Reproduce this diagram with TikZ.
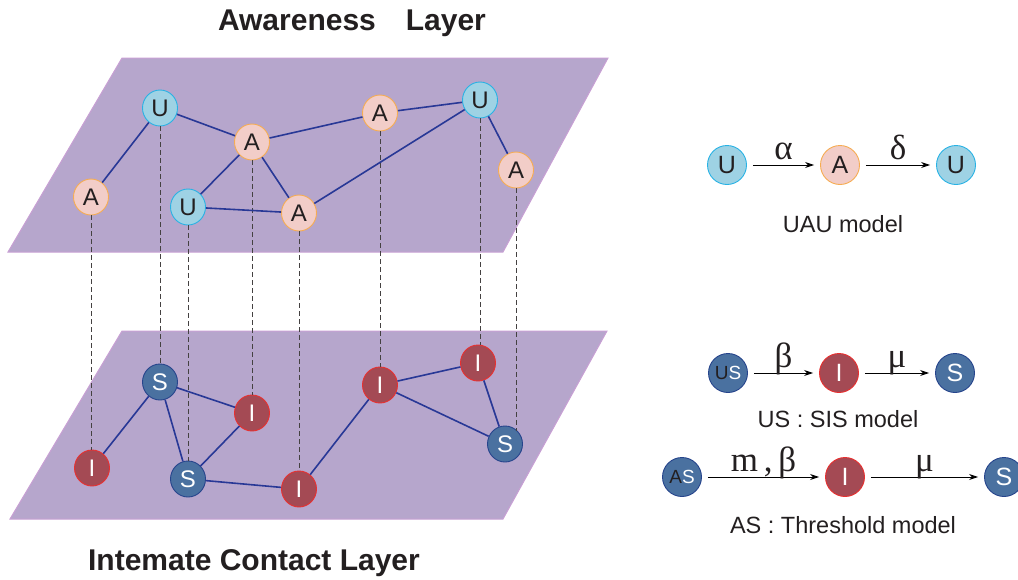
\documentclass[tikz,border=0pt]{standalone}
\usepackage{fontspec}
\setmainfont{Liberation Sans}
\newfontfamily\greekfont{Liberation Serif}
\usetikzlibrary{arrows.meta,shapes.geometric}

\definecolor{plane}{RGB}{182,166,204}
\definecolor{planeedge}{RGB}{200,160,212}
\definecolor{ufill}{RGB}{158,210,228}
\definecolor{uedge}{RGB}{40,178,228}
\definecolor{afill}{RGB}{242,205,200}
\definecolor{aedge}{RGB}{246,172,82}
\definecolor{sfill}{RGB}{74,113,160}
\definecolor{sedge}{RGB}{38,68,140}
\definecolor{ifill}{RGB}{164,74,84}
\definecolor{iedge}{RGB}{232,48,48}
\definecolor{link}{RGB}{40,56,150}
\definecolor{ink}{RGB}{35,31,32}

\tikzset{
  layerplane/.style={fill=plane,draw=planeedge,line width=1pt},
  state/.style={ellipse,inner sep=0pt,line width=0.9pt,minimum width=35pt,minimum height=36pt,
    font=\fontsize{24}{24}\selectfont},
  bigstate/.style={state,minimum width=39pt,minimum height=39pt,font=\fontsize{25}{25}\selectfont},
  pairstate/.style={bigstate,font=\fontsize{19}{19}\selectfont},
  ustate/.style={fill=ufill,draw=uedge,text=ink},
  astate/.style={fill=afill,draw=aedge,text=ink},
  sstate/.style={fill=sfill,draw=sedge,text=white},
  istate/.style={fill=ifill,draw=iedge,text=white},
  link/.style={draw=link,line width=1.6pt},
  vlink/.style={draw=ink!85,line width=1pt,dash pattern=on 5pt off 3pt},
  trans/.style={draw=black,line width=0.9pt,-{Stealth[length=9pt,width=6pt]},shorten <=6pt,shorten >=6pt},
  rate/.style={font=\greekfont\fontsize{35}{35}\selectfont,text=ink,inner sep=0pt,anchor=base,yshift=6pt},
  caption/.style={font=\fontsize{23.5}{23.5}\selectfont,text=ink},
  title/.style={font=\bfseries\fontsize{30}{30}\selectfont,text=ink}
}

\begin{document}
\begin{tikzpicture}[x=1pt,y=-1pt]
\useasboundingbox (0,0) rectangle (1018,579);

% the two layers
\fill[layerplane] (122,58) -- (608,58) -- (503,252) -- (8,252) -- cycle;
\fill[layerplane] (122,331) -- (607,331) -- (503,519) -- (10,519) -- cycle;

\node[title] (toptitle) at (352,23) {Awareness\hspace{30pt}Layer};
\node[title] (bottitle) at (254,563) {Intemate Contact Layer};

% awareness layer nodes
\node[state,ustate] (u1) at (160,108) {U};
\node[state,astate] (a1) at (91,197) {A};
\node[state,astate] (a2) at (252,142) {A};
\node[state,ustate] (u2) at (188,207) {U};
\node[state,astate] (a3) at (299,213) {A};
\node[state,astate] (a4) at (380,113) {A};
\node[state,ustate] (u3) at (480,100) {U};
\node[state,astate] (a5) at (516,170) {A};

% contact layer nodes
\node[state,istate] (i1) at (92,468) {I};
\node[state,sstate] (s1) at (160,382) {S};
\node[state,istate] (i2) at (252,413) {I};
\node[state,sstate] (s2) at (188,479) {S};
\node[state,istate] (i3) at (299,489) {I};
\node[state,istate] (i4) at (380,385) {I};
\node[state,istate] (i5) at (478,363) {I};
\node[state,sstate] (s3) at (505,444) {S};

% inter-layer correspondence
\draw[vlink] (a1.south) -- (a1.south |- i1.north);
\draw[vlink] (u1.south) -- (u1.south |- s1.north);
\draw[vlink] (u2.south) -- (u2.south |- s2.north);
\draw[vlink] (a2.south) -- (a2.south |- i2.north);
\draw[vlink] (a3.south) -- (a3.south |- i3.north);
\draw[vlink] (a4.south) -- (a4.south |- i4.north);
\draw[vlink] (u3.south) -- (u3.south |- i5.north);
\draw[vlink] (a5.south) -- (a5.south |- s3.north east);

% awareness links
\draw[link] (a1) -- (u1);
\draw[link] (u1) -- (a2);
\draw[link] (a2) -- (u2);
\draw[link] (a2) -- (a3);
\draw[link] (u2) -- (a3);
\draw[link] (a2) -- (a4);
\draw[link] (a4) -- (u3);
\draw[link] (u3) -- (a3);
\draw[link] (u3) -- (a5);

% contact links
\draw[link] (i1) -- (s1);
\draw[link] (s1) -- (i2);
\draw[link] (s1) -- (s2);
\draw[link] (s2) -- (i2);
\draw[link] (s2) -- (i3);
\draw[link] (i3) -- (i4);
\draw[link] (i4) -- (i5);
\draw[link] (i4) -- (s3);
\draw[link] (i5) -- (s3);

% UAU model
\node[bigstate,ustate] (m1u) at (727,165) {U};
\node[bigstate,astate] (m1a) at (840,165) {A};
\node[bigstate,ustate] (m1v) at (956,165) {U};
\draw[trans] (m1u) -- node[rate] {α} (m1a);
\draw[trans] (m1a) -- node[rate] {δ} (m1v);
\node[caption] (cap1) at (843,224) {UAU model};

% US : SIS model
\node[pairstate,sstate] (m2us) at (728,373) {\textcolor{ink}{U}S};
\node[bigstate,istate] (m2i) at (839,373) {I};
\node[bigstate,sstate] (m2s) at (955,373) {S};
\draw[trans] (m2us) -- node[rate] {β} (m2i);
\draw[trans] (m2i) -- node[rate] {μ} (m2s);
\node[caption] (cap2) at (838,419) {US : SIS model};

% AS : Threshold model
\node[pairstate,sstate] (m3as) at (682,477) {\textcolor{ink}{A}S};
\node[bigstate,istate] (m3i) at (845,477) {I};
\node[bigstate,sstate] (m3s) at (1004,477) {S};
\draw[trans] (m3as) -- node[rate] {m\,,\,β} (m3i);
\draw[trans] (m3i) -- node[rate] {μ} (m3s);
\node[caption] (cap3) at (843,525) {AS : Threshold model};
\end{tikzpicture}
\end{document}
